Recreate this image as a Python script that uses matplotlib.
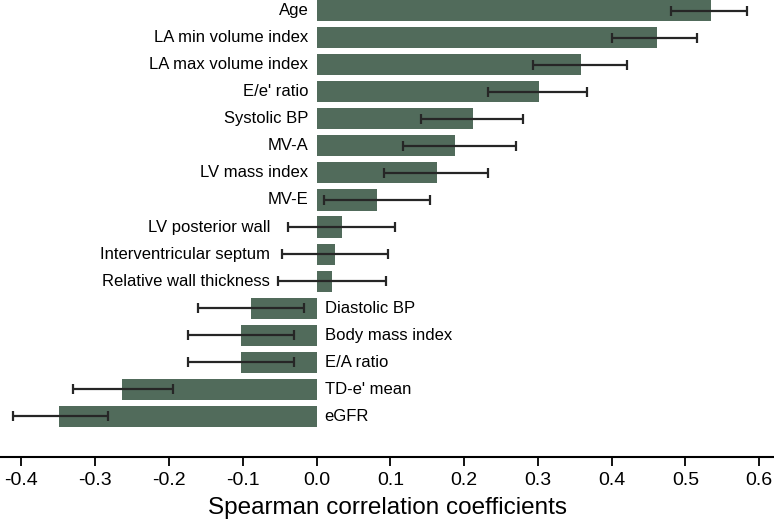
import matplotlib.pyplot as plt
import numpy as np

# Spearman correlation coefficients with 95% CI
labels = ["Age", "LA min volume index", "LA max volume index", "E/e' ratio",
          "Systolic BP", "MV-A", "LV mass index", "MV-E", "LV posterior wall",
          "Interventricular septum", "Relative wall thickness", "Diastolic BP",
          "Body mass index", "E/A ratio", "TD-e' mean", "eGFR"]
rho = [0.534, 0.461, 0.359, 0.301, 0.212, 0.187, 0.163, 0.082, 0.034,
       0.025, 0.021, -0.089, -0.103, -0.103, -0.263, -0.349]
ci_low = [0.480, 0.401, 0.294, 0.233, 0.141, 0.117, 0.092, 0.010, -0.038,
          -0.047, -0.052, -0.160, -0.174, -0.174, -0.330, -0.411]
ci_high = [0.584, 0.516, 0.421, 0.366, 0.280, 0.271, 0.233, 0.154, 0.106,
           0.097, 0.094, -0.017, -0.030, -0.030, -0.194, -0.283]
xticks = [-0.4, -0.3, -0.2, -0.1, 0.0, 0.1, 0.2, 0.3, 0.4, 0.5, 0.6]

plt.rcParams['font.family'] = ['Liberation Sans', 'DejaVu Sans']

fig = plt.figure(figsize=(7.74, 5.27), dpi=100)
ax = fig.add_axes([0.0, 0.1328, 1.0, 0.8672])

y = np.arange(len(labels))
rho = np.array(rho)
lo = np.array(ci_low)
hi = np.array(ci_high)
err = np.vstack([rho - lo, hi - rho])

ax.barh(y, rho, height=0.78, color='#516b5b', zorder=1)
ax.errorbar(rho, y, xerr=err, fmt='none', ecolor='#262626', elinewidth=1.6,
            capsize=3.3, capthick=1.6, zorder=2)

# labels sit next to the zero line, on the side opposite the bar;
# positive bars whose CI crosses zero get their labels pushed past the CI
pad = 0.011
crossing = (rho > 0) & (lo < 0)
left_anchor = lo[crossing].min() - pad if crossing.any() else -pad
for yi, lab, r, l in zip(y, labels, rho, lo):
    if r >= 0:
        x = left_anchor if l < 0 else -pad
        ax.text(x, yi, lab, ha='right', va='center', fontsize=12)
    else:
        ax.text(pad, yi, lab, ha='left', va='center', fontsize=12)

ax.set_xlim(-0.429, 0.62)
ax.set_ylim(16.5, -0.39)
ax.set_xticks(xticks)
ax.set_xticklabels([f"{t:.1f}" for t in xticks])
ax.set_yticks([])
ax.tick_params(axis='x', labelsize=14, length=6.5, width=1.3, direction='out', pad=4)
ax.set_xlabel("Spearman correlation coefficients", fontsize=17.5, labelpad=6)

for s in ['top', 'right', 'left']:
    ax.spines[s].set_visible(False)
ax.spines['bottom'].set_linewidth(1.5)

fig.savefig('out.png', dpi=100)
